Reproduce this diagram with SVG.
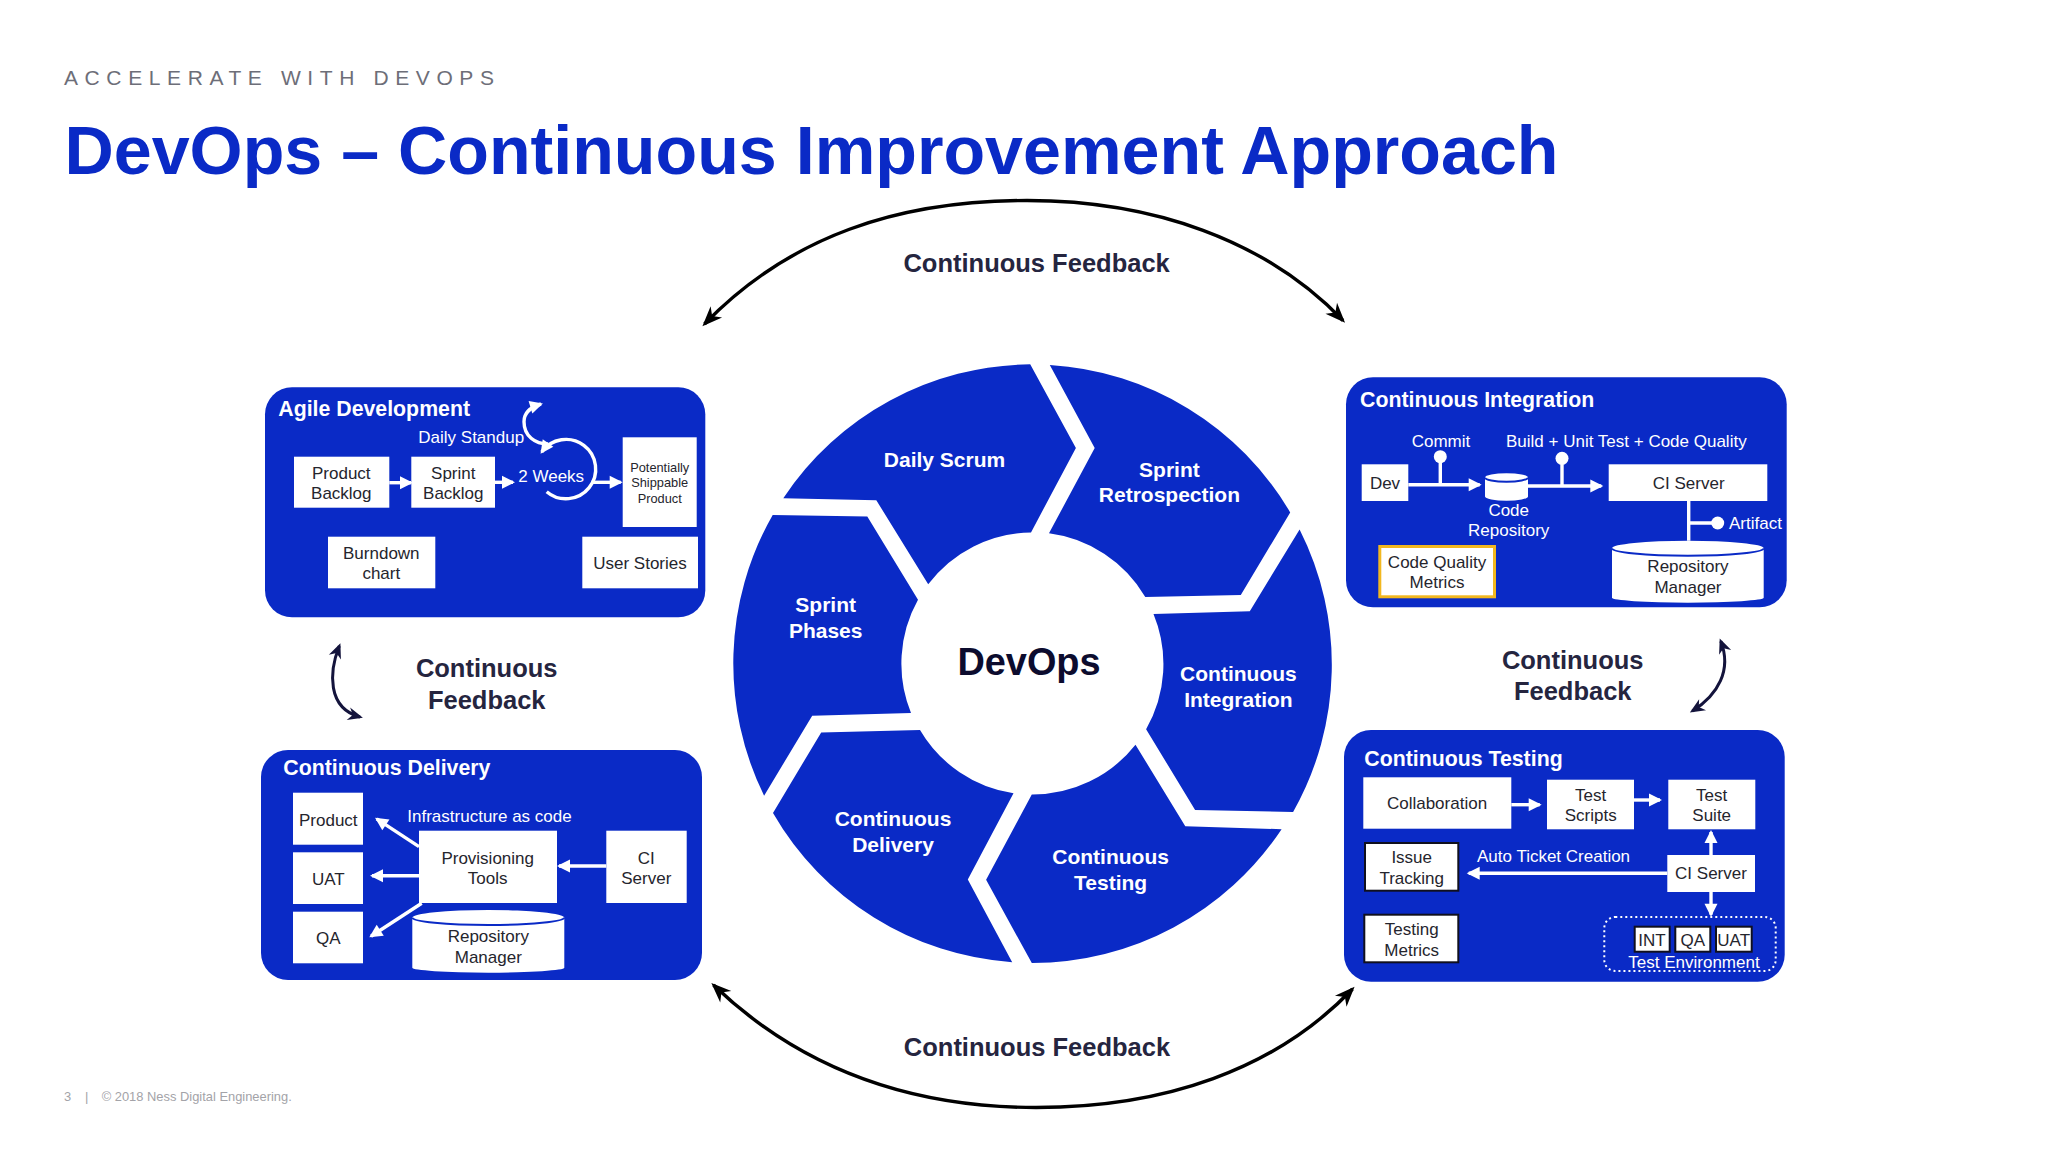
<svg xmlns="http://www.w3.org/2000/svg" width="2048" height="1152" viewBox="0 0 2048 1152">
<style>
text{font-family:"Liberation Sans",Arial,sans-serif}
.seg,.panel{fill:#0a2ac6}
.box{fill:#fff}
.bk{stroke:#10101e;stroke-width:2}
.t{font-size:17px;fill:#25252d;text-anchor:middle}
.w{font-size:17px;fill:#fff}
.ph{font-size:21.300px;font-weight:700;fill:#fff}
.sl{font-size:21px;font-weight:700;fill:#fff;text-anchor:middle}
.fb{font-size:25.500px;font-weight:700;fill:#25253f;text-anchor:middle}
.big{fill:none;stroke:#000;stroke-width:3.400;marker-start:url(#hb);marker-end:url(#hb)}
.small{fill:none;stroke:#14143c;stroke-width:3;marker-start:url(#hn);marker-end:url(#hn)}
.wl{fill:none;stroke:#fff;stroke-width:3.400}
.wa{marker-end:url(#hw)}
.cap{fill:none;stroke:#0a2ac6;stroke-width:2}
</style>
<defs>
<marker id="hb" markerUnits="userSpaceOnUse" markerWidth="24" markerHeight="18" refX="17" refY="8" orient="auto-start-reverse" overflow="visible"><path d="M20,8 L0,0 L6,8 L0,16 Z" fill="#000"/></marker>
<marker id="hn" markerUnits="userSpaceOnUse" markerWidth="18" markerHeight="14" refX="12" refY="6.500" orient="auto-start-reverse" overflow="visible"><path d="M15,6.500 L0,0 L4.500,6.500 L0,13 Z" fill="#14143c"/></marker>
<marker id="hw" markerUnits="userSpaceOnUse" markerWidth="16" markerHeight="14" refX="11" refY="6.500" orient="auto" overflow="visible"><path d="M13,6.500 L0,0 L0,13 Z" fill="#fff"/></marker>
</defs>
<rect width="2048" height="1152" fill="#fff"/>

<g id="header">
<text x="64" y="85" font-size="21" letter-spacing="6.600" fill="#6d6e78">ACCELERATE WITH DEVOPS</text>
<text x="64.500" y="174" font-size="68.200" font-weight="700" fill="#0a2ac6">DevOps – Continuous Improvement Approach</text>
</g>

<g id="wheel">
<g id="seg-daily-scrum"><path class="seg" d="M1030.200,364.300 L1075.900,448 L1031,532.400 A131,131 0 0 0 928.200,584.300 L876.300,500.200 L783.300,498.200 A299.500,299.500 0 0 1 1030.200,364.300 Z"/><text class="sl" x="944.500" y="467">Daily Scrum</text></g>
<g id="seg-sprint-retrospection"><path class="seg" d="M1049.800,365.100 L1094.700,448 L1049,533.300 A131,131 0 0 1 1145.300,596.900 L1240.800,594.900 L1290.200,512.400 A299.500,299.500 0 0 0 1049.800,365.100 Z"/><text class="sl" x="1169.400" y="476.500">Sprint</text><text class="sl" x="1169.400" y="502">Retrospection</text></g>
<g id="seg-continuous-integration"><path class="seg" d="M1299.600,529.600 A299.500,299.500 0 0 1 1293.100,812 L1195.100,810 L1146.100,729.200 A131,131 0 0 0 1153.500,614.100 L1249.800,611.200 Z"/><text class="sl" x="1238.400" y="681.400">Continuous</text><text class="sl" x="1238.400" y="707">Integration</text></g>
<g id="seg-continuous-testing"><path class="seg" d="M1281.600,829.200 A299.500,299.500 0 0 1 1031.800,963 L986.100,879.800 L1031.800,794.500 A131,131 0 0 0 1135.500,744.700 L1185.300,826.300 Z"/><text class="sl" x="1110.600" y="864.300">Continuous</text><text class="sl" x="1110.600" y="890">Testing</text></g>
<g id="seg-continuous-delivery"><path class="seg" d="M1012.200,962.200 A299.500,299.500 0 0 1 773,812.900 L821.200,732.400 L920,730 A131,131 0 0 0 1013.500,793.300 L967.800,879.400 Z"/><text class="sl" x="893" y="825.900">Continuous</text><text class="sl" x="893" y="852">Delivery</text></g>
<g id="seg-sprint-phases"><path class="seg" d="M764.100,795.700 A299.500,299.500 0 0 1 772.700,514.900 L867.300,516.500 L918,599.800 A131,131 0 0 0 911,712.900 L812.200,715.700 Z"/><text class="sl" x="825.700" y="612.400">Sprint</text><text class="sl" x="825.700" y="638.200">Phases</text></g>
<g id="center"><text x="1029" y="675" font-size="37.900" font-weight="700" fill="#0c0c2e" text-anchor="middle">DevOps</text></g>
</g>

<g id="agile-development">
<rect class="panel" x="265" y="387.300" width="440.300" height="230" rx="27"/>
<text class="ph" x="278.300" y="416">Agile Development</text>
<text class="w" x="418.300" y="443.300">Daily Standup</text>
<g id="product-backlog"><rect class="box" x="294" y="456.700" width="95.300" height="51"/><text class="t" x="341.300" y="479">Product</text><text class="t" x="341.300" y="499.300">Backlog</text></g>
<g id="sprint-backlog"><rect class="box" x="411.300" y="456.700" width="83.700" height="51"/><text class="t" x="453.300" y="479">Sprint</text><text class="t" x="453.300" y="499.300">Backlog</text></g>
<text class="w" x="518.300" y="481.700">2 Weeks</text>
<g id="potentially-shippable"><rect class="box" x="622.700" y="437.300" width="74" height="89.700"/><text class="t" x="659.700" y="471.700" style="font-size:12.800px">Potentially</text><text class="t" x="659.700" y="487.300" style="font-size:12.800px">Shippable</text><text class="t" x="659.700" y="502.700" style="font-size:12.800px">Product</text></g>
<g id="burndown-chart"><rect class="box" x="328" y="536.700" width="107.300" height="51.600"/><text class="t" x="381.300" y="559">Burndown</text><text class="t" x="381.300" y="579">chart</text></g>
<g id="user-stories"><rect class="box" x="582.300" y="536.700" width="115.700" height="51.600"/><text class="t" x="640" y="569.300">User Stories</text></g>
</g>

<g id="continuous-delivery">
<rect class="panel" x="261" y="750" width="441" height="230" rx="27"/>
<text class="ph" x="283.300" y="775">Continuous Delivery</text>
<text class="w" x="407.300" y="821.700">Infrastructure as code</text>
<g id="cd-product"><rect class="box" x="293" y="792.700" width="70" height="52"/><text class="t" x="328.300" y="826">Product</text></g>
<g id="cd-uat"><rect class="box" x="293" y="852.300" width="70" height="51.700"/><text class="t" x="328.300" y="885">UAT</text></g>
<g id="cd-qa"><rect class="box" x="293" y="911.700" width="70" height="51.600"/><text class="t" x="328.300" y="944">QA</text></g>
<g id="provisioning-tools"><rect class="box" x="419" y="830.700" width="138" height="72.300"/><text class="t" x="487.700" y="864">Provisioning</text><text class="t" x="487.700" y="884.300">Tools</text></g>
<g id="cd-ci-server"><rect class="box" x="606.300" y="830.700" width="80.400" height="72.300"/><text class="t" x="646.300" y="864">CI</text><text class="t" x="646.300" y="884">Server</text></g>
<g id="cd-repository-manager"><path class="box" d="M412.300,917.500 A76,7.500 0 0 1 564.300,917.500 V967.700 A76,5 0 0 1 412.300,967.700 Z"/><path class="cap" d="M412.300,917.500 A76,7.500 0 0 0 564.300,917.500"/><text class="t" x="488.300" y="942.300">Repository</text><text class="t" x="488.300" y="962.700">Manager</text></g>
</g>

<g id="continuous-integration">
<rect class="panel" x="1346" y="377.300" width="440.700" height="230" rx="27"/>
<text class="ph" x="1360" y="406.700">Continuous Integration</text>
<text class="w" x="1441" y="446.700" text-anchor="middle">Commit</text>
<text class="w" x="1506" y="446.700">Build + Unit Test + Code Quality</text>
<text class="w" x="1729" y="529">Artifact</text>
<g id="dev"><rect class="box" x="1361.700" y="464.300" width="46.600" height="36.700"/><text class="t" x="1385" y="489">Dev</text></g>
<g id="code-repository"><path class="box" d="M1485,477.500 A21.500,4.200 0 0 1 1528,477.500 V496.500 A21.500,4.200 0 0 1 1485,496.500 Z"/><path class="cap" d="M1485,477.500 A21.500,4.200 0 0 0 1528,477.500"/><text class="w" x="1508.700" y="515.700" text-anchor="middle">Code</text><text class="w" x="1508.700" y="536" text-anchor="middle">Repository</text></g>
<g id="ci-server"><rect class="box" x="1608.700" y="464.300" width="158.600" height="36.700"/><text class="t" x="1688.700" y="489">CI Server</text></g>
<g id="code-quality-metrics"><rect class="box" x="1379.800" y="546.500" width="114.700" height="50.300" stroke="#f2b71f" stroke-width="3"/><text class="t" x="1437" y="567.700">Code Quality</text><text class="t" x="1437" y="588">Metrics</text></g>
<g id="ci-repository-manager"><path class="box" d="M1612,548.200 A75.850,7.500 0 0 1 1763.700,548.200 V597.700 A75.850,5 0 0 1 1612,597.700 Z"/><path class="cap" d="M1612,548.200 A75.850,7.500 0 0 0 1763.700,548.200"/><text class="t" x="1688" y="572.300">Repository</text><text class="t" x="1688" y="592.700">Manager</text></g>
</g>

<g id="continuous-testing">
<rect class="panel" x="1344" y="730" width="440.700" height="251.700" rx="27"/>
<text class="ph" x="1364.300" y="765.500">Continuous Testing</text>
<text class="w" x="1477" y="861.500">Auto Ticket Creation</text>
<g id="collaboration"><rect class="box" x="1363.300" y="777.300" width="148" height="51.400"/><text class="t" x="1437" y="809.300">Collaboration</text></g>
<g id="test-scripts"><rect class="box" x="1547" y="779.700" width="87" height="49.600"/><text class="t" x="1590.700" y="800.700">Test</text><text class="t" x="1590.700" y="821">Scripts</text></g>
<g id="test-suite"><rect class="box" x="1668.300" y="779.700" width="87" height="49.600"/><text class="t" x="1711.700" y="800.700">Test</text><text class="t" x="1711.700" y="821">Suite</text></g>
<g id="issue-tracking"><rect class="box bk" x="1365" y="843" width="93.300" height="47.700"/><text class="t" x="1411.700" y="863.300">Issue</text><text class="t" x="1411.700" y="883.700">Tracking</text></g>
<g id="ct-ci-server"><rect class="box" x="1667.300" y="855" width="87.700" height="37"/><text class="t" x="1711" y="879">CI Server</text></g>
<g id="testing-metrics"><rect class="box bk" x="1364.300" y="914.700" width="94" height="47.600"/><text class="t" x="1411.700" y="935.300">Testing</text><text class="t" x="1411.700" y="955.700">Metrics</text></g>
<g id="test-environment"><rect x="1604.300" y="917" width="171.400" height="54" rx="11" fill="none" stroke="#fff" stroke-width="2" stroke-dasharray="2 3"/>
<rect class="box bk" x="1634.700" y="926.700" width="35" height="25"/><text class="t" x="1652" y="946">INT</text>
<rect class="box bk" x="1675.300" y="926.700" width="35" height="25"/><text class="t" x="1692.700" y="946">QA</text>
<rect class="box bk" x="1716" y="926.700" width="35.700" height="25"/><text class="t" x="1733.700" y="946">UAT</text>
<text class="w" x="1694" y="968" text-anchor="middle">Test Environment</text></g>
</g>

<g id="feedback-labels">
<text class="fb" x="1036.600" y="271.700">Continuous Feedback</text>
<text class="fb" x="1037" y="1056">Continuous Feedback</text>
<text class="fb" x="486.700" y="677.300">Continuous</text><text class="fb" x="486.700" y="708.600">Feedback</text>
<text class="fb" x="1572.700" y="668.600">Continuous</text><text class="fb" x="1572.700" y="700">Feedback</text>
</g>

<g id="connectors">
<path class="big" d="M704.500,324 C790,236 898,200.500 1027,200.500 C1152,200.500 1266,240 1343,320.500"/>
<path class="big" d="M713.500,985 C800,1068 908,1107.500 1036,1107.500 C1164,1107.500 1275,1070 1352.500,989"/>
<path class="small" d="M339.300,646 C329,672 327,708 360,717"/>
<path class="small" d="M1720.800,641.200 C1732,670 1718,695 1692.400,711"/>
<path class="wl wa" d="M389.300,482.700 H411"/>
<path class="wl wa" d="M495,482.300 H513"/>
<path class="wl wa" d="M591.500,482.300 H620.700"/>
<path class="wl wa" d="M546.700,491.700 A29.700,29.700 0 1 0 541.700,452"/>
<path class="wl wa" d="M548.300,444 C535,444 524,436 524,421.700 C524,413 531,407 541,404"/>
<path class="wl wa" d="M419,846.700 L376.700,818.800"/>
<path class="wl wa" d="M419,875.700 H372"/>
<path class="wl wa" d="M421.700,903.300 L371,936.200"/>
<path class="wl wa" d="M606.300,866 H559"/>
<path class="wl wa" d="M1408.300,484.700 H1479.700"/>
<path class="wl wa" d="M1528,486 H1601.300"/>
<path class="wl" d="M1440.300,456.700 V484.700 M1562,458.300 V486 M1688.700,501 V540.700 M1688.700,523 H1717"/>
<g fill="#fff"><circle cx="1440.300" cy="456.700" r="6.500"/><circle cx="1562" cy="458.300" r="6.500"/><circle cx="1717.700" cy="523" r="6.500"/></g>
<path class="wl wa" d="M1511.300,804.700 H1539.700"/>
<path class="wl wa" d="M1634,800 H1660"/>
<path class="wl wa" d="M1711,855 V832"/>
<path class="wl wa" d="M1711,892 V914.700"/>
<path class="wl wa" d="M1667.300,873.300 H1468.700"/>
</g>

<g id="footer" font-size="12.900" fill="#a3a3a8">
<text x="64" y="1100.700">3</text><text x="85" y="1100.700">|</text><text x="101.700" y="1100.700">© 2018 Ness Digital Engineering.</text>
</g>
</svg>
